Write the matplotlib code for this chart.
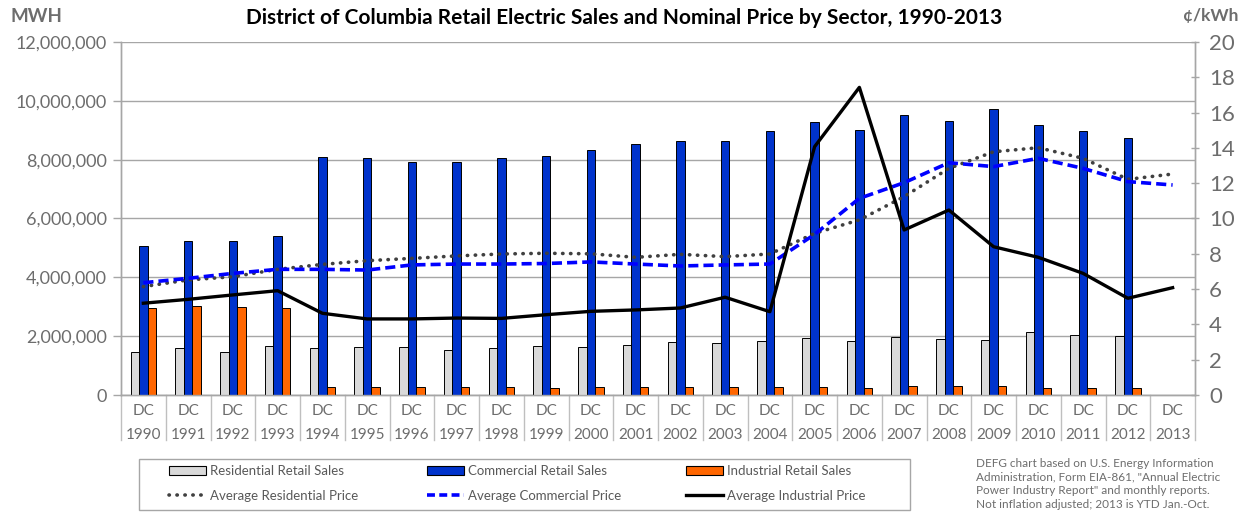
import matplotlib
matplotlib.use("Agg")
import matplotlib.pyplot as plt
from matplotlib.patches import Patch, Rectangle
from matplotlib.lines import Line2D
from matplotlib.ticker import FuncFormatter, MultipleLocator

plt.rcParams["font.family"] = ["Lato", "DejaVu Sans"]

years = list(range(1990, 2014))
state = ["DC"] * len(years)

# retail sales, MWh (2013 shown without bars)
res_sales = [1.46e6, 1.59e6, 1.46e6, 1.65e6, 1.59e6, 1.62e6, 1.62e6, 1.54e6, 1.59e6, 1.65e6,
             1.62e6, 1.69e6, 1.80e6, 1.76e6, 1.84e6, 1.94e6, 1.84e6, 1.98e6, 1.90e6, 1.87e6,
             2.13e6, 2.05e6, 2.02e6, 0]
com_sales = [5.08e6, 5.22e6, 5.22e6, 5.40e6, 8.10e6, 8.06e6, 7.91e6, 7.91e6, 8.06e6, 8.14e6,
             8.32e6, 8.53e6, 8.63e6, 8.63e6, 8.96e6, 9.29e6, 9.01e6, 9.52e6, 9.30e6, 9.71e6,
             9.19e6, 8.97e6, 8.73e6, 0]
ind_sales = [2.96e6, 3.03e6, 2.99e6, 2.96e6, 0.27e6, 0.27e6, 0.27e6, 0.26e6, 0.26e6, 0.23e6,
             0.26e6, 0.26e6, 0.26e6, 0.26e6, 0.26e6, 0.26e6, 0.23e6, 0.31e6, 0.31e6, 0.31e6,
             0.23e6, 0.23e6, 0.23e6, 0]

# average nominal prices, cents/kWh
res_price = [6.14, 6.52, 6.70, 7.12, 7.40, 7.61, 7.74, 7.88, 7.99, 8.03,
             8.00, 7.80, 7.97, 7.84, 7.99, 9.16, 9.92, 11.24, 12.84, 13.78,
             14.01, 13.41, 12.22, 12.52]
com_price = [6.36, 6.61, 6.89, 7.12, 7.12, 7.08, 7.37, 7.42, 7.42, 7.45,
             7.54, 7.42, 7.31, 7.37, 7.42, 9.10, 11.14, 12.03, 13.16, 12.94,
             13.41, 12.84, 12.09, 11.90]
ind_price = [5.20, 5.42, 5.67, 5.91, 4.63, 4.31, 4.31, 4.36, 4.34, 4.55,
             4.74, 4.82, 4.93, 5.54, 4.72, 14.07, 17.43, 9.35, 10.48, 8.40,
             7.80, 6.89, 5.48, 6.08]

GRAY_TXT = "#6d6d6d"
GRID = "#a6a6a6"
C_RES = "#d9d9d9"
C_COM = "#0033cc"
C_IND = "#ff6600"
DOT = (0, (0.1, 2.1))
DASH = (0, (2.8, 1.4))

W, H = 1247, 520
fig = plt.figure(figsize=(W / 100, H / 100), dpi=100)
fig.patch.set_facecolor("white")
L, R, T, B = 121, 1195, 42, 395
ax = fig.add_axes([L / W, 1 - B / H, (R - L) / W, (B - T) / H])
ax2 = ax.twinx()

x = list(range(len(years)))
bw = 0.19
ax.bar([i - bw for i in x], res_sales, bw, color=C_RES, edgecolor="black", linewidth=0.7, zorder=3)
ax.bar(x, com_sales, bw, color=C_COM, edgecolor="black", linewidth=0.7, zorder=3)
ax.bar([i + bw for i in x], ind_sales, bw, color=C_IND, edgecolor="black", linewidth=0.7, zorder=3)

ax.set_xlim(-0.5, len(years) - 0.5)
ax.set_ylim(0, 12e6)
ax.yaxis.set_major_locator(MultipleLocator(2e6))
ax.yaxis.set_major_formatter(FuncFormatter(lambda v, p: f"{int(v):,}"))
ax.grid(axis="y", color=GRID, linewidth=1.0, zorder=0)
ax.set_axisbelow(True)
ax.set_xticks([])
ax.tick_params(axis="y", colors=GRID, labelcolor=GRAY_TXT, labelsize=13, length=6, width=1, pad=4)

ax2.plot(x, res_price, color="#404040", linewidth=2.6, linestyle=DOT, dash_capstyle="round", zorder=4)
ax2.plot(x, com_price, color="#0000ff", linewidth=2.6, linestyle=DASH, zorder=4)
ax2.plot(x, ind_price, color="black", linewidth=2.4, zorder=5)
ax2.set_ylim(0, 20)
ax2.yaxis.set_major_locator(MultipleLocator(2))
ax2.tick_params(axis="y", colors=GRID, labelcolor=GRAY_TXT, labelsize=16, length=6, width=1,
                direction="inout", pad=7)

for a in (ax, ax2):
    a.spines["top"].set_visible(False)
    for side in ("left", "right", "bottom"):
        a.spines[side].set_color(GRID)
        a.spines[side].set_linewidth(1.0)

# category axis: two label rows with separators
xt = ax.get_xaxis_transform()
sep_depth = (440 - B) / (B - T)
for i in range(len(years) + 1):
    ax.add_line(Line2D([i - 0.5, i - 0.5], [0, -sep_depth], color="#bfbfbf", linewidth=1.0,
                       transform=xt, clip_on=False))
for i, (s, yr) in enumerate(zip(state, years)):
    ax.text(i, -(411 - B) / (B - T), s, transform=xt, ha="center", va="center",
            fontsize=11, color=GRAY_TXT)
    ax.text(i, -(435 - B) / (B - T), str(yr), transform=xt, ha="center", va="center",
            fontsize=11, color=GRAY_TXT)

fig.text(624 / W, 1 - 18 / H, "District of Columbia Retail Electric Sales and Nominal Price by Sector, 1990-2013",
         ha="center", va="center", fontsize=15, fontweight="bold", color="black")
fig.text(10 / W, 1 - 16 / H, "MWH", ha="left", va="center", fontsize=13.5, fontweight="bold", color=GRAY_TXT)
fig.text(1238 / W, 1 - 16 / H, "¢/kWh", ha="right", va="center", fontsize=12.5, fontweight="bold", color=GRAY_TXT)

# legend: framed box with three columns of two entries
fig.add_artist(Rectangle((139 / W, 1 - 510 / H), (910 - 139) / W, (510 - 459) / H,
                         transform=fig.transFigure, facecolor="white", edgecolor=GRID, linewidth=1.0))
columns = [
    [Patch(facecolor=C_RES, edgecolor="black", linewidth=0.8, label="Residential Retail Sales"),
     Line2D([], [], color="#404040", linewidth=2.6, linestyle=DOT, dash_capstyle="round",
            label="Average Residential Price")],
    [Patch(facecolor=C_COM, edgecolor="black", linewidth=0.8, label="Commercial Retail Sales"),
     Line2D([], [], color="#0000ff", linewidth=2.6, linestyle=(0, (2.2, 1.2)), label="Average Commercial Price")],
    [Patch(facecolor=C_IND, edgecolor="black", linewidth=0.8, label="Industrial Retail Sales"),
     Line2D([], [], color="black", linewidth=2.4, label="Average Industrial Price")],
]
for cx, hs in zip([169, 427, 686], columns):
    lg = fig.legend(handles=hs, loc="center left", bbox_to_anchor=(cx / W, 1 - 483.5 / H),
                    frameon=False, fontsize=9.5, handlelength=2.8, handleheight=0.6,
                    handletextpad=0.3, labelspacing=0.95, borderpad=0, borderaxespad=0)
    for t in lg.get_texts():
        t.set_color("#595959")

fig.text(976 / W, 1 - 458 / H,
         "DEFG chart based on U.S. Energy Information\nAdministration, Form EIA-861, \"Annual Electric\n"
         "Power Industry Report\" and monthly reports.\nNot inflation adjusted; 2013 is YTD Jan.-Oct.",
         ha="left", va="top", fontsize=8.5, color="#6d6d6d", linespacing=1.3)

fig.savefig("out.png", dpi=100)
